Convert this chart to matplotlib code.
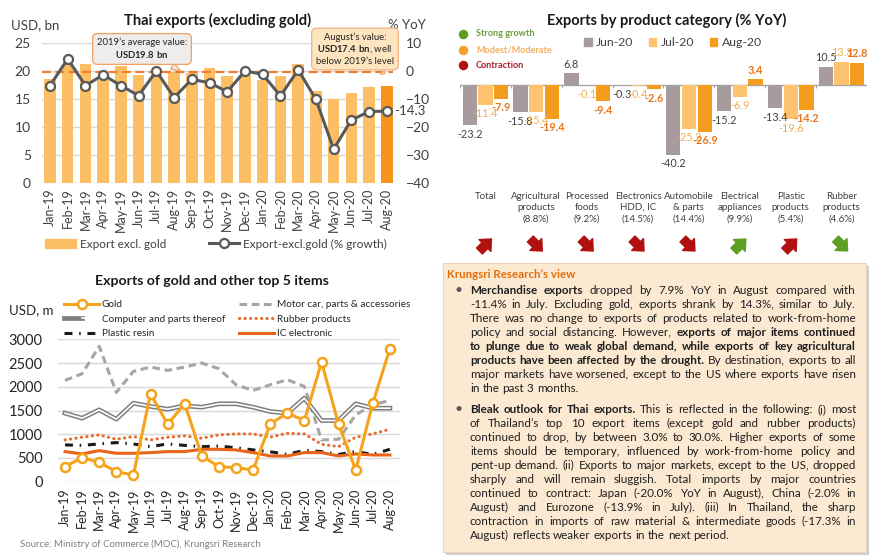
import matplotlib
matplotlib.use("Agg")
import matplotlib.pyplot as plt
import numpy as np
from matplotlib.patches import Patch, Rectangle
from matplotlib.lines import Line2D
from matplotlib.legend_handler import HandlerTuple

plt.rcParams['font.family'] = ['Lato', 'DejaVu Sans']
plt.rcParams['mathtext.fontset'] = 'custom'
plt.rcParams['mathtext.rm'] = 'Lato'
plt.rcParams['mathtext.bf'] = 'Lato:bold'

# ---- data: Thai exports excluding gold ----
months = ["Jan-19", "Feb-19", "Mar-19", "Apr-19", "May-19", "Jun-19", "Jul-19",
          "Aug-19", "Sep-19", "Oct-19", "Nov-19", "Dec-19", "Jan-20", "Feb-20",
          "Mar-20", "Apr-20", "May-20", "Jun-20", "Jul-20", "Aug-20"]
export_bn = [18.5, 21.3, 21.2, 18.4, 20.9, 19.3, 19.5, 19.8, 19.7, 20.6,
             19.1, 19.2, 18.4, 19.1, 21.2, 16.4, 15.0, 16.1, 17.1, 17.4]
growth_pct = [-5.2, 4.3, -5.2, -1.4, -5.2, -8.8, 0.0, -9.5, -3.0, -4.2,
              -7.4, 0.0, -1.2, -8.9, 0.4, -10.1, -27.9, -17.5, -14.5, -14.3]

# ---- data: exports by product category (% YoY) ----
categories = ["Total", "Agricultural\nproducts\n(8.8%)", "Processed\nfoods\n(9.2%)",
              "Electronics\nHDD, IC\n(14.5%)", "Automobile\n& parts\n(14.4%)",
              "Electrical\nappliances\n(9.9%)", "Plastic\nproducts\n(5.4%)",
              "Rubber\nproducts\n(4.6%)"]
jun20 = [-23.2, -15.8, 6.8, -0.3, -40.2, -15.2, -13.4, 10.5]
jul20 = [-11.4, -15.4, -0.1, -0.4, -25.2, -6.9, -19.6, 13.3]
aug20 = [-7.9, -19.4, -9.4, -2.6, -26.9, 3.4, -14.2, 12.8]
trend_dir = ["up", "down", "down", "down", "down", "up", "up", "down"]
trend_status = ["contraction", "contraction", "contraction", "contraction",
                "contraction", "strong", "contraction", "strong"]

# ---- data: gold and top 5 items (USD m) ----
gold = [317, 507, 408, 211, 141, 1852, 1211, 1640, 542, 317,
        296, 246, 1218, 1444, 1289, 2521, 1211, 246, 1655, 2803]
motor = [2134, 2275, 2852, 1880, 2324, 2415, 2345, 2415, 2500, 2380,
         2042, 1923, 2042, 2148, 2007, 880, 894, 1408, 1620, 1711]
computer = [1444, 1338, 1514, 1317, 1655, 1585, 1528, 1599, 1570, 1641,
            1641, 1570, 1479, 1444, 1761, 1289, 1289, 1641, 1549, 1549]
rubber = [880, 937, 986, 894, 951, 880, 937, 965, 915, 986,
          1007, 1007, 937, 1021, 1007, 789, 739, 937, 1007, 1106]
plastic = [775, 765, 796, 824, 795, 739, 796, 765, 739, 750,
           715, 670, 630, 575, 660, 634, 575, 634, 575, 683]
ic_elec = [634, 585, 655, 599, 599, 613, 634, 634, 683, 683,
           669, 613, 542, 542, 613, 613, 542, 585, 563, 563]

# ---- text: Krungsri Research's view (lines as laid out) ----
view_p1 = [
    [("Merchandise exports", True), ("dropped by 7.9% YoY in August compared with", False)],
    [("-11.4% in July. Excluding gold, exports shrank by 14.3%, similar to July.", False)],
    [("There was no change to exports of products related to work-from-home", False)],
    [("policy and social distancing. However,", False), ("exports of major items continued", True)],
    [("to plunge due to weak global demand, while exports of key agricultural", True)],
    [("products have been affected by the drought.", True), ("By destination, exports to all", False)],
    [("major markets have worsened, except to the US where exports have risen", False)],
    [("in the past 3 months.", False)],
]
view_p2 = [
    [("Bleak outlook for Thai exports.", True), ("This is reflected in the following: (i) most", False)],
    [("of Thailand\u2019s top 10 export items (except gold and rubber products)", False)],
    [("continued to drop, by  between 3.0% to 30.0%. Higher exports of some", False)],
    [("items should be temporary, influenced by work-from-home policy and", False)],
    [("pent-up demand. (ii) Exports to major markets, except to the US, dropped", False)],
    [("sharply and will remain sluggish. Total imports by major countries", False)],
    [("continued to contract: Japan (-20.0% YoY in August), China (-2.0% in", False)],
    [("August) and Eurozone (-13.9% in July). (iii) In Thailand, the sharp", False)],
    [("contraction in imports of raw material & intermediate goods (-17.3% in", False)],
    [("August) reflects weaker exports in the next period.", False)],
]

W, H = 870, 556
fig = plt.figure(figsize=(W / 100, H / 100), dpi=100)
fig.patch.set_facecolor("white")

# overlay axes in pixel units for titles / notes
ov = fig.add_axes([0, 0, 1, 1])
ov.set_xlim(0, W)
ov.set_ylim(H, 0)
ov.axis("off")


def fig_rect(x0, y0, x1, y1):
    return [x0 / W, 1 - y1 / H, (x1 - x0) / W, (y1 - y0) / H]


txt_c = "#404040"
grid_c = "#D9D9D9"

# ================= Thai exports (excluding gold) =================
bar_c, bar_last = "#FDBF63", "#F7941D"
line_c = "#595959"
idx = np.arange(len(months))

ax1 = fig.add_axes(fig_rect(42, 43, 393, 183))
ax1.set_facecolor("none")
ax1.bar(idx, export_bn, width=0.65,
        color=[bar_last if m == months[-1] else bar_c for m in months], zorder=2)
avg_2019 = np.mean(export_bn[:12])
ax1.axhline(avg_2019, color="#ED7D31", lw=1.6, ls=(0, (4, 2)), zorder=3)
ax1.set_ylim(0, 25)
ax1.set_yticks(range(0, 26, 5))
ax1.set_xlim(-0.45, 19.35)
ax1.set_xticks(idx)
ax1.set_xticklabels(months, rotation=90, fontsize=9, color=txt_c)
ax1.yaxis.grid(True, color=grid_c, lw=1)
ax1.set_axisbelow(True)
ax1.tick_params(axis="y", length=0, pad=8, labelsize=10, labelcolor=txt_c)
ax1.tick_params(axis="x", length=0, pad=4)
for s in ax1.spines.values():
    s.set_visible(False)

ax2 = ax1.twinx()
ax2.plot(idx, growth_pct, color=line_c, lw=2.2, marker="o", ms=6.5,
         mfc="white", mec=line_c, mew=1.6, zorder=4)
ax2.set_ylim(-40, 10)
ax2.set_yticks(range(-40, 11, 10))
ax2.tick_params(axis="y", length=0, pad=9, labelsize=10, labelcolor=txt_c)
for s in ax2.spines.values():
    s.set_visible(False)
ax2.annotate(f"{growth_pct[-1]:.1f}", xy=(idx[-1], growth_pct[-1]), xytext=(5, 0),
             textcoords="offset points", va="center", ha="left", fontsize=9.5, color=txt_c)

ax1.annotate("2019\u2019s average value:\n$\\mathbf{USD" + f"{avg_2019:.1f}" + "\\ bn}$",
             xy=(7.5, avg_2019), xytext=(142, H - 49), textcoords="figure pixels",
             ha="center", va="center", fontsize=6.8, color="#262626", zorder=6,
             bbox=dict(boxstyle="round,pad=0.45,rounding_size=0.5", fc="#EDEDED", ec="#F0A060", lw=0.9),
             arrowprops=dict(arrowstyle="wedge,tail_width=0.7,shrink_factor=0.5",
                             fc="#EDEDED", ec="#F0A060", lw=0.9))
ax1.annotate("August\u2019s value:\n$\\mathbf{USD" + f"{export_bn[-1]:.1f}" + "\\ bn}$, well\nbelow 2019\u2019s level",
             xy=(idx[-1], avg_2019 - 0.6), xytext=(355, H - 49), textcoords="figure pixels",
             ha="center", va="center", fontsize=6.8, color="#262626", zorder=6,
             bbox=dict(boxstyle="round,pad=0.45,rounding_size=0.5", fc="#FDE5C0", ec="#F4B183", lw=0.9),
             arrowprops=dict(arrowstyle="wedge,tail_width=0.7,shrink_factor=0.5",
                             fc="#FDE5C0", ec="#F4B183", lw=0.9))

ov.text(218, 20, "Thai exports (excluding gold)", ha="center", va="center",
        fontsize=10.5, fontweight="bold", color="#1A1A1A")
ov.text(11, 25, "USD, bn", ha="left", va="center", fontsize=9.5, color=txt_c)
ov.text(426, 25, "% YoY", ha="right", va="center", fontsize=9.5, color=txt_c)

fig.legend([Patch(color=bar_c),
            Line2D([], [], color=line_c, lw=2.2, marker="o", ms=6.5, mfc="white", mec=line_c, mew=1.6)],
           ["Export excl. gold", "Export-excl.gold (% growth)"],
           loc="center", bbox_to_anchor=(216 / W, 1 - 244 / H), ncol=2, frameon=False,
           fontsize=8.5, handlelength=2.6, handleheight=0.7, columnspacing=3.6,
           handletextpad=0.3, labelcolor=txt_c)

# ================= Exports by product category =================
jun_c, jul_c, aug_c = "#A89B9D", "#FDC36E", "#F39C1E"
series = [(jun20, jun_c, "#404040", False),
          (jul20, jul_c, "#F2AE4E", False),
          (aug20, aug_c, "#E8761C", True)]
cx = np.arange(len(categories))

ax3 = fig.add_axes(fig_rect(460, 55.4, 867, 158))
ax3.set_facecolor("none")
ax3.set_xlim(-0.5, len(categories) - 0.5)
ax3.set_ylim(-42, 17)
ax3.axis("off")
ax3.axhline(0, color="#A6A6A6", lw=1, zorder=1)
ax3.vlines(np.arange(-0.5, len(categories)), -2, 0, color="#A6A6A6", lw=0.8)
for k, (vals, col, lab_col, bold) in enumerate(series):
    xs = cx + (k - 1) * 0.31
    ax3.bar(xs, vals, width=0.28, color=col, zorder=2)
    for x, v in zip(xs, vals):
        ax3.annotate(f"{v:.1f}", (x, v), xytext=(0, 6.5 if v >= 0 else -6.5),
                     textcoords="offset points", ha="center", va="center",
                     fontsize=7.8, color=lab_col, fontweight="bold" if bold else "normal", zorder=3)

ov.text(667, 20, "Exports by product category (% YoY)", ha="center", va="center",
        fontsize=10.5, fontweight="bold", color="#1A1A1A")

status_c = {"strong": "#5E9E22", "moderate": "#F5A02A", "contraction": "#B01010"}
status_txt = {"strong": "#6E9E3A", "moderate": "#F4B060", "contraction": "#A5202A"}
for y, key, lab in [(34, "strong", "Strong growth"), (50, "moderate", "Modest/Moderate"),
                    (65, "contraction", "Contraction")]:
    ov.scatter([463], [y], s=34, color=status_c[key], zorder=5)
    ov.text(476, y, lab, ha="left", va="center", fontsize=6.6, fontweight="bold",
            color=status_txt[key])

fig.legend([Patch(color=jun_c), Patch(color=jul_c), Patch(color=aug_c)],
           ["Jun-20", "Jul-20", "Aug-20"], loc="center",
           bbox_to_anchor=(673 / W, 1 - 43 / H), ncol=3, frameon=False, fontsize=8.8,
           handlelength=0.6, handleheight=0.6, handletextpad=0.35, columnspacing=1.3,
           labelcolor=txt_c)

cat_px = [ax3.transData.transform((c, 0))[0] for c in cx]
for px, lab, d, st in zip(cat_px, categories, trend_dir, trend_status):
    ov.text(px, 192, lab, ha="center", va="top", fontsize=7, linespacing=1.3, color=txt_c)
    dy = -1 if d == "up" else 1
    col = status_c[st]
    ov.annotate("", xy=(px + 6, 245 + 6 * dy), xytext=(px - 6, 245 - 6 * dy),
                arrowprops=dict(arrowstyle="simple,head_length=0.55,head_width=1.0,tail_width=0.5",
                                fc=col, ec=col, mutation_scale=12, shrinkA=0, shrinkB=0))

# ================= Gold and other top 5 items =================
gold_c = "#F5A31A"
ax4 = fig.add_axes(fig_rect(58, 339.3, 400, 481.7))
ax4.set_facecolor("none")
ax4.plot(idx, motor, color="#A6A6A6", lw=2.2, ls=(0, (2.5, 1.5)), zorder=2)
ax4.plot(idx, computer, color="#7F7F7F", lw=3.4, zorder=2)
ax4.plot(idx, computer, color="white", lw=1.2, zorder=2)
ax4.plot(idx, rubber, color="#E46C2E", lw=2.2, ls=(0, (0.1, 1.7)), dash_capstyle="round", zorder=2)
ax4.plot(idx, plastic, color="#1A1A1A", lw=2.2, ls=(0, (2.6, 2.2, 0.5, 2.2)), zorder=2)
ax4.plot(idx, ic_elec, color="#E8641B", lw=2.2, zorder=3)
ax4.plot(idx, gold, color=gold_c, lw=2.2, marker="o", ms=6.5, mfc="white", mec=gold_c,
         mew=1.8, zorder=4)
ax4.set_ylim(0, 3000)
ax4.set_yticks(range(0, 3001, 500))
ax4.set_xlim(-0.41, 19.59)
ax4.set_xticks(idx)
ax4.set_xticklabels(months, rotation=90, fontsize=9, color="#262626")
ax4.yaxis.grid(True, color=grid_c, lw=1)
ax4.set_axisbelow(True)
ax4.tick_params(axis="y", length=0, pad=11, labelsize=10.5, labelcolor="#262626")
ax4.tick_params(axis="x", length=0, pad=5)
for s in ax4.spines.values():
    s.set_visible(False)

h_gold = Line2D([], [], color=gold_c, lw=2.2, marker="o", ms=6.5, mfc="white", mec=gold_c, mew=1.8)
h_comp = (Line2D([], [], color="#7F7F7F", lw=3.4), Line2D([], [], color="white", lw=1.2))
h_plas = Line2D([], [], color="#1A1A1A", lw=2.2, ls=(0, (2.6, 2.2, 0.5, 2.2)))
h_motor = Line2D([], [], color="#A6A6A6", lw=2.2, ls=(0, (2.5, 1.5)))
h_rub = Line2D([], [], color="#E46C2E", lw=2.2, ls=(0, (0.1, 1.7)), dash_capstyle="round")
h_ic = Line2D([], [], color="#E8641B", lw=2.2)
fig.legend([h_gold, h_comp, h_plas, h_motor, h_rub, h_ic],
           ["Gold", "Computer and parts thereof", "Plastic resin",
            "Motor car, parts & accessories", "Rubber products", "IC electronic"],
           handler_map={tuple: HandlerTuple(ndivide=None)},
           loc="upper left", bbox_to_anchor=(64 / W, 1 - 300 / H), ncol=2, frameon=False,
           fontsize=7.2, handlelength=3.5, labelspacing=0.55, columnspacing=1.4,
           handletextpad=0.3, borderpad=0, borderaxespad=0, labelcolor="#262626")

ov.text(212, 281, "Exports of gold and other top 5 items", ha="center", va="center",
        fontsize=10.2, fontweight="bold", color="#1A1A1A")
ov.text(9, 310, "USD, m", ha="left", va="center", fontsize=9.5, color="#262626")
ov.text(20, 544, "Source: Ministry of Commerce (MOC), Krungsri Research", ha="left",
        va="center", fontsize=6.9, color="#7F7F7F")

# ================= Krungsri Research's view box =================
ov.add_patch(Rectangle((446, 266), 423, 289, fc="#CFCFCF", ec="none", zorder=0))
ov.add_patch(Rectangle((443, 263), 423, 289, fc="#FCE9D2", ec="#E8D4BA", lw=0.8, zorder=1))
ov.text(447, 275, "Krungsri Research\u2019s view", ha="left", va="center", fontsize=8.3,
        fontweight="bold", color="#E36C0A")

renderer = fig.canvas.get_renderer()
X0, X1 = 470, 856


def text_w(s, size, bold):
    t = ov.text(0, 0, s, fontsize=size, fontweight="bold" if bold else "normal")
    w = t.get_window_extent(renderer).width
    t.remove()
    return w


def line_words(segs):
    return [(w, b) for txt, b in segs for w in txt.split()]


def natural_w(segs, size):
    words = line_words(segs)
    sp = text_w("a a", size, False) - text_w("aa", size, False)
    return sum(text_w(w, size, b) for w, b in words) + sp * (len(words) - 1)


base = 9.0
widest = max(natural_w(l, base) for l in view_p1 + view_p2)
body_size = min(8.7, base * (X1 - X0) / widest * 0.985)
space_w = text_w("a a", body_size, False) - text_w("aa", body_size, False)


def draw_par(lines, y_first, step):
    ov.text(459, y_first + 3.5, "\u2022", ha="center", va="baseline", fontsize=10, color="#595959")
    for i, segs in enumerate(lines):
        y = y_first + i * step + 3.5
        words = line_words(segs)
        widths = [text_w(w, body_size, b) for w, b in words]
        last = i == len(lines) - 1
        gap = space_w if last else (X1 - X0 - sum(widths)) / (len(words) - 1)
        x = X0
        for (w, b), wd in zip(words, widths):
            ov.text(x, y, w, ha="left", va="baseline", fontsize=body_size,
                    fontweight="bold" if b else "normal", color="#1F1F1F", zorder=3)
            x += wd + gap


draw_par(view_p1, 290, 14.0)
draw_par(view_p2, 409.3, 13.97)

fig.savefig("out.png", dpi=100)
